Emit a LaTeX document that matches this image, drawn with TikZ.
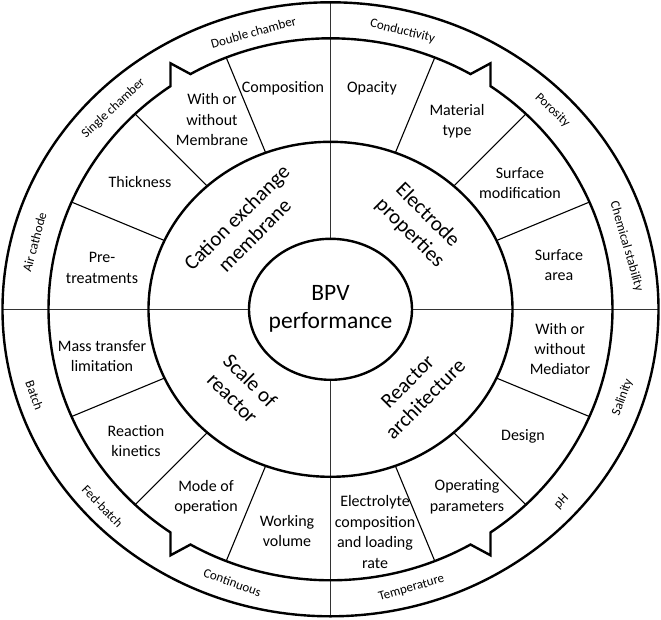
\documentclass[tikz,border=0pt]{standalone}
\usepackage{fontspec}
\setmainfont{Carlito}
\begin{document}
\begin{tikzpicture}[x=1pt,y=1pt,
  thickline/.style={line width=2.4pt, line join=miter},
  divline/.style={line width=1.1pt},
  crossline/.style={line width=0.9pt, black!80},
  ringtext/.style={font=\fontsize{16}{20.5}\selectfont, align=center, inner sep=0pt},
  outertext/.style={font=\fontsize{13}{15}\selectfont, inner sep=0pt},
  cattext/.style={font=\fontsize{21}{25}\selectfont, align=center, inner sep=0pt},
  coretext/.style={font=\fontsize{23.5}{28}\selectfont, align=center, inner sep=0pt},
]
\useasboundingbox (-330.5,-309.7) rectangle (330.5,309.3);

% cross lines
\draw[crossline] (0,70.5) -- (0,307);
\draw[crossline] (0,-70.5) -- (0,-307);
\draw[crossline] (81.5,0) -- (328,0);
\draw[crossline] (-81.5,0) -- (-328,0);

% radial dividers in the middle ring
\foreach \p in {22.5,45,67.5,112.5,135,157.5,202.5,225,247.5,292.5,315,337.5}{
  \pgfmathsetmacro\ri{182/sqrt((cos(\p))^2+(1.08657*sin(\p))^2)}
  \pgfmathsetmacro\ro{282/sqrt((cos(\p))^2+(1.04059*sin(\p))^2)}
  \draw[divline] (\p:\ri) -- (\p:\ro);
}

% outer ellipse
\draw[thickline] (0,0) ellipse[x radius=328, y radius=307];
% second ellipse with notches
\draw[thickline] (-55.43:282 and 271)
  arc[start angle=-55.43, end angle=55.43, x radius=282, y radius=271]
  -- (160,246) -- (60.23:282 and 271)
  arc[start angle=60.23, end angle=119.77, x radius=282, y radius=271]
  -- (-160,246) -- (124.57:282 and 271)
  arc[start angle=124.57, end angle=235.43, x radius=282, y radius=271]
  -- (-160,-246) -- (240.23:282 and 271)
  arc[start angle=240.23, end angle=299.77, x radius=282, y radius=271]
  -- (160,-246) -- cycle;
% middle ellipse
\draw[thickline] (0,0) ellipse[x radius=182, y radius=167.5];
% inner ellipse
\draw[thickline] (0,0) ellipse[x radius=81.5, y radius=70.5];

% core
\node[coretext] (core) at (0,0) {BPV\\performance};

% categories
\node[cattext, rotate=45] (cem) at (-85,83) {Cation exchange\\membrane};
\node[cattext, rotate=-45] (ep) at (88,85) {Electrode\\properties};
\node[cattext, rotate=-45] (sr) at (-89,-80) {Scale of\\reactor};
\node[cattext, rotate=45] (ra) at (86,-81) {Reactor\\architecture};

% middle ring items
\node[ringtext] (comp) at (-47.5,221.3) {Composition};
\node[ringtext] (memb) at (-118.5,189.3) {With or\\without\\Membrane};
\node[ringtext] (thick) at (-190.5,127.3) {Thickness};
\node[ringtext] (pret) at (-228.5,41.3) {Pre-\\treatments};
\node[ringtext] (opac) at (41.5,221.3) {Opacity};
\node[ringtext] (mat) at (126.5,188.3) {Material\\type};
\node[ringtext] (surfm) at (189.5,126.3) {Surface\\modification};
\node[ringtext] (surfa) at (228.5,44.3) {Surface\\area};
\node[ringtext] (mass) at (-228.5,-46.7) {Mass transfer\\limitation};
\node[ringtext] (kin) at (-194.5,-131.7) {Reaction\\kinetics};
\node[ringtext] (mode) at (-124.5,-187.7) {Mode of\\operation};
\node[ringtext] (vol) at (-43.5,-221.7) {Working\\volume};
\node[ringtext] (elec) at (44.5,-222.7) {Electrolyte\\composition\\and loading\\rate};
\node[ringtext] (oper) at (136.5,-187.7) {Operating\\parameters};
\node[ringtext] (des) at (192.5,-126.7) {Design};
\node[ringtext] (medi) at (229.5,-39.7) {With or\\without\\Mediator};

% outer ring items
\node[outertext, rotate=15.5] (dbl) at (-77,277) {Double chamber};
\node[outertext, rotate=-13.5] (cond) at (72,278) {Conductivity};
\node[outertext, rotate=43] (sgl) at (-217,201) {Single chamber};
\node[outertext, rotate=-43.5] (poro) at (222,199) {Porosity};
\node[outertext, rotate=75] (air) at (-296,67) {Air cathode};
\node[outertext, rotate=-74] (chem) at (296,63) {Chemical stability};
\node[outertext, rotate=-70] (batch) at (-296,-86) {Batch};
\node[outertext, rotate=70] (sal) at (292,-88) {Salinity};
\node[outertext, rotate=-46] (fed) at (-228,-197) {Fed-batch};
\node[outertext, rotate=46] (ph) at (231,-193) {pH};
\node[outertext, rotate=-20] (cont) at (-98,-273) {Continuous};
\node[outertext, rotate=16] (temp) at (81,-279) {Temperature};
\end{tikzpicture}
\end{document}
